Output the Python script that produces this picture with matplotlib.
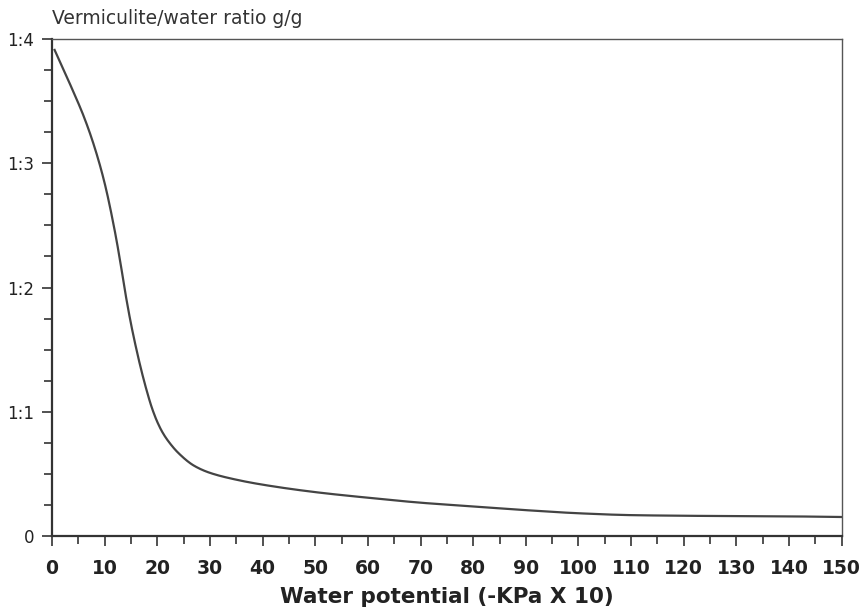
import numpy as np
import matplotlib
matplotlib.use("Agg")
import matplotlib.pyplot as plt
from matplotlib.ticker import MultipleLocator

# water potential (-KPa x 10) and vermiculite/water ratio (water g per g vermiculite)
potential = [0.5, 2, 4, 6, 8, 10, 12, 13, 14, 15, 16, 17, 18, 19, 20, 21, 22,
             24, 27, 30, 35, 40, 50, 60, 70, 80, 90, 100, 110, 120, 130, 140,
             150]
ratio = [3.91, 3.77, 3.58, 3.38, 3.14, 2.84, 2.44, 2.20, 1.94, 1.71, 1.51,
         1.33, 1.17, 1.03, 0.92, 0.835, 0.77, 0.67, 0.567, 0.51, 0.455,
         0.415, 0.355, 0.31, 0.27, 0.24, 0.21, 0.185, 0.17, 0.165, 0.162,
         0.16, 0.155]

yticks = [0, 1, 2, 3, 4]
ylabels = ["0", "1:1", "1:2", "1:3", "1:4"]
xticks = list(range(0, 151, 10))

INK = "#333333"

fig = plt.figure(figsize=(8.66, 6.15), dpi=100)
ax = fig.add_axes([0.060, 0.128, 0.912, 0.809])

# monotone cubic through the read-off points so the curve looks hand-drawn smooth
xs = np.array(potential, float)
ys = np.array(ratio, float)
xf = np.linspace(xs[0], xs[-1], 1200)
d = np.diff(ys) / np.diff(xs)
hx = np.diff(xs)
m = np.zeros_like(ys)
w1 = 2 * hx[1:] + hx[:-1]
w2 = hx[1:] + 2 * hx[:-1]
m[1:-1] = np.where(d[:-1] * d[1:] > 0,
                   (w1 + w2) / (w1 / d[:-1] + w2 / d[1:]), 0)
m[0], m[-1] = d[0], d[-1]
idx = np.clip(np.searchsorted(xs, xf) - 1, 0, len(xs) - 2)
h = xs[idx + 1] - xs[idx]
t = (xf - xs[idx]) / h
yf = ((2 * t**3 - 3 * t**2 + 1) * ys[idx] + (t**3 - 2 * t**2 + t) * h * m[idx]
      + (-2 * t**3 + 3 * t**2) * ys[idx + 1] + (t**3 - t**2) * h * m[idx + 1])
ax.plot(xf, yf, color="#444444", lw=1.6)

ax.set_xlim(0, 150)
ax.set_ylim(0, 4)
ax.set_xticks(xticks)
ax.set_xticklabels([str(v) for v in xticks])
ax.xaxis.set_minor_locator(MultipleLocator(5))
ax.set_yticks(yticks)
ax.set_yticklabels(ylabels)
ax.yaxis.set_minor_locator(MultipleLocator(0.25))

ax.tick_params(axis="both", which="major", direction="out", length=7, width=1.2,
               color=INK, labelcolor="#222222")
ax.tick_params(axis="both", which="minor", direction="out", length=6, width=1.2,
               color=INK)
ax.tick_params(axis="x", labelsize=13.5, pad=9)
ax.tick_params(axis="y", labelsize=12, pad=6)
for lab in ax.get_xticklabels():
    lab.set_fontweight("bold")

for side in ["left", "bottom"]:
    ax.spines[side].set_linewidth(1.6)
    ax.spines[side].set_color(INK)
for side in ["top", "right"]:
    ax.spines[side].set_linewidth(1.0)
    ax.spines[side].set_color("#555555")

ax.set_xlabel("Water potential (-KPa X 10)", fontsize=15.5, fontweight="bold",
              color="#222222", labelpad=7)
fig.text(0.060, 0.955, "Vermiculite/water ratio g/g", fontsize=13.5,
         color="#333333", ha="left", va="bottom")

fig.savefig("out.png", dpi=100, facecolor="white")
